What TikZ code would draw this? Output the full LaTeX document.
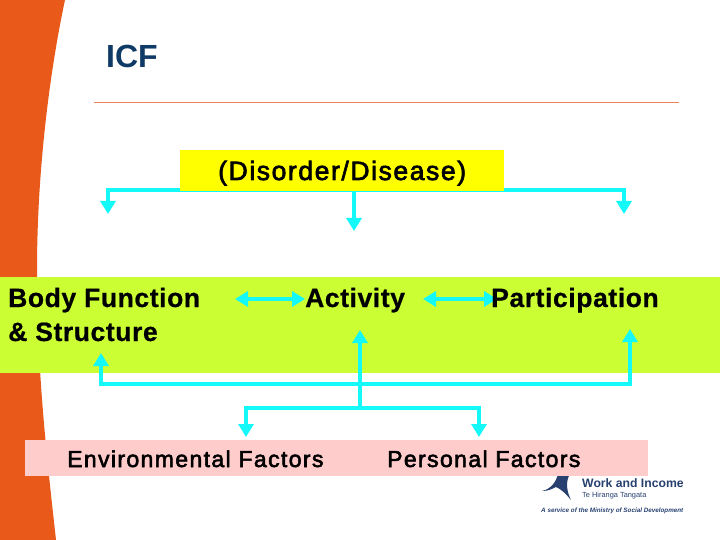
\documentclass[tikz,border=0pt]{standalone}
\usepackage{fontspec}
\setmainfont{Liberation Sans}
\newfontfamily\widefont[LetterSpace=6,FakeBold=2.5]{Liberation Sans}
\newfontfamily\heavyfont[LetterSpace=2.2,FakeBold=0.6]{Liberation Sans Bold}
\usetikzlibrary{arrows.meta}
\definecolor{slideorange}{HTML}{E8591A}
\definecolor{titlenavy}{HTML}{0F3A66}
\definecolor{headyellow}{HTML}{FFFF00}
\definecolor{bandgreen}{HTML}{CCFF33}
\definecolor{boxpink}{HTML}{FFCCCC}
\definecolor{linkcyan}{HTML}{14F8F8}
\definecolor{titlerule}{HTML}{E8855A}
\definecolor{logoblue}{HTML}{27406F}
\tikzset{
  link/.style={draw=linkcyan, line width=4.5pt, line join=miter},
  boldlabel/.style={anchor=base west, inner sep=0pt, font=\fontsize{26.5}{30}\selectfont\heavyfont},
  widelabel/.style={anchor=base west, inner sep=0pt},
  logolabel/.style={anchor=base west, inner sep=0pt, text=logoblue}
}
\begin{document}
\begin{tikzpicture}[x=1pt, y=-1pt, >={Triangle[width=15pt,length=13pt]}]
 \useasboundingbox (0,0) rectangle (720,540);
 % side ribbon
 \fill[slideorange] (0,0)--(65,0) .. controls (50,70) and (37,170) .. (37,270)
   .. controls (37,370) and (46,450) .. (56,540)--(0,540)--cycle;
 \draw[titlerule, line width=1pt] (94,103)--(679,103);
 \node[anchor=base west, inner sep=0pt, text=titlenavy, font=\fontsize{32}{36}\selectfont\bfseries] (title) at (106,68) {ICF};
 % top branches
 \coordinate (topleft) at (108,214);
 \coordinate (topmid) at (354,231);
 \coordinate (topright) at (624,214);
 \coordinate (topbar) at (354,190);
 \draw[link,->] (topbar) -| (topleft);
 \draw[link,->] (topbar) -| (topright);
 \draw[link,->] (topbar) -- (topmid);
 \fill[headyellow] (180,150) rectangle (504,191);
 \node[widelabel, font=\fontsize{26.5}{30}\selectfont\widefont] (disorder) at (218,180) {(Disorder/Disease)};
 % green band
 \fill[bandgreen] (0,277) rectangle (720,373);
 \coordinate (bodyend) at (235,299);
 \coordinate (activityleft) at (305,299);
 \coordinate (activityright) at (423,299);
 \coordinate (partend) at (497,299);
 \draw[link,<->] (bodyend)--(activityleft);
 \draw[link,<->] (activityright)--(partend);
 \node[boldlabel] (body) at (8,307) {Body Function};
 \node[boldlabel] (structure) at (8,341) {\& Structure};
 \node[boldlabel] (activity) at (305,307) {Activity};
 \node[boldlabel] (participation) at (491,307) {Participation};
 % factors
 \coordinate (upleft) at (101,353);
 \coordinate (upmid) at (360,330);
 \coordinate (upright) at (630,329);
 \coordinate (upbar) at (360,384);
 \coordinate (downbar) at (360,408);
 \coordinate (downleft) at (246,437);
 \coordinate (downright) at (479,437);
 \draw[link,->] (upbar) -| (upleft);
 \draw[link,->] (upbar) -| (upright);
 \draw[link,->] (downbar) -- (upmid);
 \draw[link,->] (downbar) -| (downleft);
 \draw[link,->] (downbar) -| (downright);
 % logo
 \fill[logoblue] (542,491) .. controls (551,489) and (556,482) .. (558,474)
   -- (570,474) .. controls (565,482) and (567,492) .. (571,500)
   .. controls (566,494) and (561,489) .. (556,487) .. controls (552,489) and (548,491) .. (542,491) -- cycle;
 \node[logolabel, font=\fontsize{12.2}{14}\selectfont\bfseries] (work) at (582,487) {Work and Income};
 \node[logolabel, font=\fontsize{7.4}{10}\selectfont] (hiranga) at (582,497) {Te Hiranga Tangata};
 \node[logolabel, font=\fontsize{6.3}{8}\selectfont\itshape\bfseries] (service) at (541,512) {A service of the Ministry of Social Development};
 \fill[boxpink] (25,440) rectangle (648,476);
 \node[widelabel, font=\fontsize{23}{26}\selectfont\widefont] (environment) at (67,467) {Environmental Factors};
 \node[widelabel, font=\fontsize{23}{26}\selectfont\widefont] (personal) at (387,467) {Personal Factors};
\end{tikzpicture}
\end{document}
